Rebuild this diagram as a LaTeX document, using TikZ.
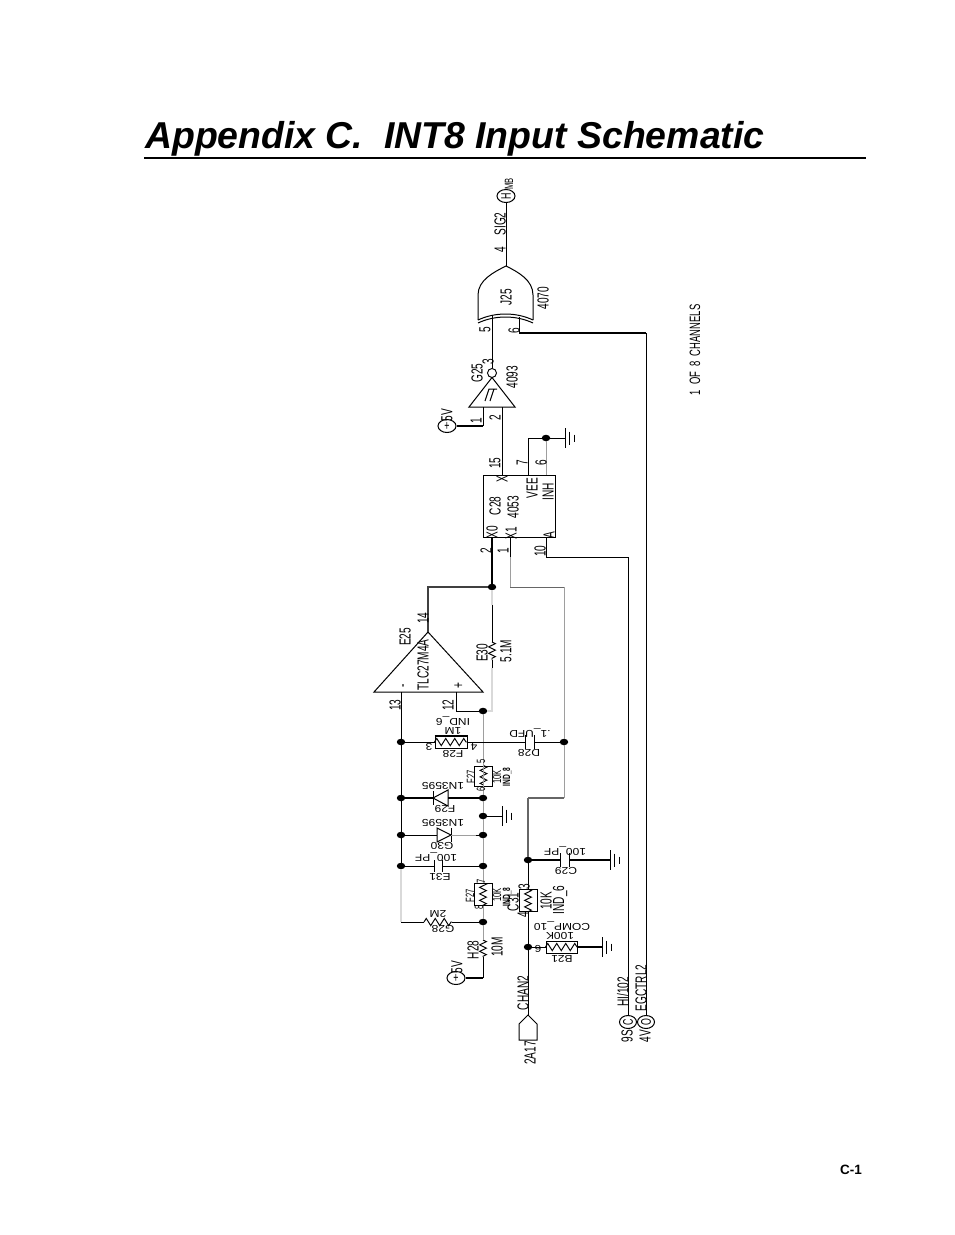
\documentclass[tikz,border=0pt]{standalone}
\usepackage{fontspec}
\usepackage{graphicx}
\usetikzlibrary{shapes.geometric,decorations.pathmorphing}
\setmainfont{Liberation Sans}
\newfontfamily\cadn[FakeStretch=0.63]{Liberation Sans}
\newfontfamily\cadw[FakeStretch=1.2]{Liberation Sans}
\definecolor{gA}{gray}{0.62}
\definecolor{gB}{gray}{0.85}
\definecolor{gC}{gray}{0.4}
\tikzset{
  wire/.style={draw=black,line width=0.95pt},
  thick wire/.style={draw=black,line width=1.7pt},
  gwire/.style={draw=gA,line width=1pt},
  lwire/.style={draw=gB,line width=1.2pt},
  dwire/.style={draw=gC,line width=1.3pt},
  dot/.style={ellipse,fill=black,inner sep=0pt,minimum width=8.5pt,minimum height=6.5pt},
  vl/.style={rotate=90,inner sep=0pt,font=\cadn\fontsize{16}{16}\selectfont},
  vs/.style={rotate=90,inner sep=0pt,font=\cadn\fontsize{12}{12}\selectfont},
  vt/.style={rotate=90,inner sep=0pt,font=\cadn\bfseries\fontsize{10.5}{11}\selectfont},
  hl/.style={rotate=180,inner sep=0pt,font=\cadw\fontsize{10}{10}\selectfont},
  port/.style={ellipse,draw=black,line width=1pt,inner sep=0pt,minimum width=18pt,minimum height=13pt,font=\cadn\fontsize{14}{14}\selectfont},
  rbox/.style={rectangle,draw=black,line width=1pt,inner sep=0pt},
  rzig/.style={draw=black,line width=0.95pt,decorate,decoration={zigzag,segment length=6.5pt,amplitude=3.4pt}},
  rzigh/.style={draw=black,line width=0.95pt,decorate,decoration={zigzag,segment length=9pt,amplitude=3.6pt}},
  plate/.style={draw=black,line width=1pt},
  gate/.style={draw=black,line width=1pt},
  gbar/.style={draw=black,line width=0.95pt}
}
\newcommand{\gndright}[2]{%
  \draw[gbar] (#1,#2-10) -- (#1,#2+10);
  \draw[gbar] (#1+4.5,#2-6.5) -- (#1+4.5,#2+6.5);
  \draw[gbar] (#1+9,#2-3.5) -- (#1+9,#2+3.5);}
\begin{document}
\begin{tikzpicture}[x=1pt,y=-1pt]
\useasboundingbox (0,0) rectangle (954,1235);
\fill[white] (0,0) rectangle (954,1235);
% title
\node[anchor=base west,inner sep=0pt,font=\bfseries\itshape\fontsize{37.4}{40}\selectfont] (title) at (145,148) {Appendix C.\ \ INT8 Input Schematic};
\coordinate (ruleL) at (144,158);
\coordinate (ruleR) at (866,158);
\draw[line width=2pt] (ruleL) -- (ruleR);
\node[inner sep=0pt,font=\bfseries\fontsize{13.5}{14}\selectfont] (pageno) at (851,1170) {C-1};
\node[rotate=90,inner sep=0pt,font=\cadn\fontsize{15}{15}\selectfont] (ch) at (695,350) {1\ \ OF\ \ 8\ \ CHANNELS};

% ---- ports
\node[port] (portH) at (506,196) {\rotatebox{90}{H}};
\node[vs] (mb) at (509,184) {MB};
\node[port] (p5a) at (447,426) {+};
\node[port] (p5b) at (456,978) {+};
\node[port,minimum width=17pt] (portC) at (628,1022) {\rotatebox{90}{C}};
\node[port,minimum width=17pt] (portO) at (646,1022) {\rotatebox{90}{O}};
\node[inner sep=0pt,minimum size=0pt] (chanTip) at (528,1015) {};
\coordinate (pa) at (537,1024); \coordinate (pb) at (537,1040); \coordinate (pc) at (519,1040); \coordinate (pd) at (519,1024);
\draw[gate] (chanTip.center) -- (pa) -- (pb) -- (pc) -- (pd) -- cycle;

% ---- XOR gate J25
\coordinate (orTip) at (506,266);
\coordinate (orL) at (478,295); \coordinate (orR) at (533,295);
\coordinate (orLb) at (478,320); \coordinate (orRb) at (533,320);
\coordinate (orLc) at (478,323); \coordinate (orRc) at (533,323);
\draw[gate] (orLb) -- (orL) .. controls (478,280) and (494,272) .. (orTip) .. controls (518,272) and (533,280) .. (orR) -- (orRb);
\draw[gate] (orLb) .. controls (495,312) and (516,312) .. (orRb);
\draw[gate] (orLc) .. controls (495,315) and (516,315) .. (orRc);
\coordinate (xorIn5) at (492,316);
\coordinate (xorIn6) at (519,317);

% ---- Schmitt inverter G25
\node[circle,draw=black,line width=0.95pt,inner sep=0pt,minimum size=9pt] (bub) at (492,373) {};
\coordinate (trTip) at (492,377.5); \coordinate (trL) at (469,407); \coordinate (trR) at (515,407);
\draw[gate] (trTip) -- (trL) -- (trR) -- cycle;
\draw[line width=1pt] (485,401) -- (489,389) -- (497,389) (490,401) -- (494,389);
\coordinate (tin1) at (483,407); \coordinate (tin2) at (502,407);

% ---- 4053 C28
\node[rbox,minimum width=72pt,minimum height=62pt] (chip) at (519,506) {};
\coordinate (chX) at (502,475); \coordinate (ch7) at (528,475); \coordinate (ch6) at (546,475);
\coordinate (chX0) at (492,537); \coordinate (chX1) at (510,537); \coordinate (chA) at (546,537);

% ---- op amp E25
\coordinate (oaTip) at (428,632); \coordinate (oaL) at (374,692); \coordinate (oaR) at (483,692);
\draw[gate] (oaTip) -- (oaL) -- (oaR) -- cycle;
\coordinate (oaM) at (401,692); \coordinate (oaP) at (456,692);

% ---- junctions
\node[dot] (jOut) at (492,587) {};
\node[dot] (gn6) at (546,438) {};
\node[dot] (a1) at (401,742) {};
\node[dot] (a2) at (401,798) {};
\node[dot] (a3) at (401,835) {};
\node[dot] (a4) at (401,866) {};
\node[dot] (b0) at (483,711) {};
\node[dot] (b2) at (483,798) {};
\node[dot] (b3) at (483,816) {};
\node[dot] (b4) at (483,835) {};
\node[dot] (b5) at (483,866) {};
\node[dot] (b6) at (483,922) {};
\node[dot] (c1) at (564,742) {};
\node[dot] (c2) at (528,860) {};
\node[dot] (c3) at (528,947) {};

% ---- resistor boxes
\node[rbox,minimum width=32pt,minimum height=12pt] (rF28) at (451,742) {};
\draw[rzigh] (rF28.west) -- (rF28.east);
\draw[line width=1.5pt] (rF28.north west) -- (rF28.north east);
\node[rbox,minimum width=18pt,minimum height=20pt] (rF27a) at (483.5,776) {};
\draw[rzig] (rF27a.north) -- (rF27a.south);
\node[rbox,minimum width=18pt,minimum height=22pt] (rF27b) at (483,894) {};
\draw[rzig] (rF27b.north) -- (rF27b.south);
\node[rbox,minimum width=18pt,minimum height=22pt] (rC31) at (528,900.5) {};
\draw[rzig] (rC31.north) -- (rC31.south);
\node[rbox,minimum width=31pt,minimum height=12pt] (rB21) at (561.5,947) {};
\draw[rzigh] (rB21.west) -- (rB21.east);
% open resistors
\coordinate (e30a) at (492,642); \coordinate (e30b) at (492,660);
\draw[rzig] (e30a) -- (e30b);
\coordinate (g28a) at (424,922); \coordinate (g28b) at (452,922);
\draw[rzigh] (g28a) -- (g28b);
\coordinate (h28a) at (483,940); \coordinate (h28b) at (483,957);
\draw[rzig] (h28a) -- (h28b);

% ---- capacitors
\coordinate (d28a) at (525,742); \coordinate (d28b) at (534,742);
\draw[plate] (525,735) -- (525,749) (534,735) -- (534,749);
\coordinate (e31a) at (434,866); \coordinate (e31b) at (442,866);
\draw[plate] (434,860) -- (434,872) (442,860) -- (442,872);
\coordinate (c29a) at (560,860); \coordinate (c29b) at (569,860);
\draw[plate] (560,853) -- (560,867) (569,853) -- (569,867);

% ---- diodes
\coordinate (f29a) at (433,798); \coordinate (f29b) at (448,798);
\draw[gate] (f29a) -- (448,790) -- (448,806) -- cycle;
\draw[gate] (433,791) -- (433,805);
\coordinate (g30a) at (437,835); \coordinate (g30b) at (451,835);
\draw[gate] (g30b) -- (437,828) -- (437,842) -- cycle;
\draw[gate] (451,828) -- (451,842);

% ---- grounds
\gndright{565}{438}
\gndright{502}{816}
\gndright{610}{860}
\gndright{602}{947}
\coordinate (gnd1) at (565,438);
\coordinate (gnd2) at (502,816);
\coordinate (gnd3) at (610,860);
\coordinate (gnd4) at (602,947);

% ---- wires
\draw[wire] (portH) -- (orTip);
\draw[wire] (bub) -- (xorIn5);
\draw[wire] (xorIn6) -- (519,333);
\coordinate (r6) at (519,333);
\coordinate (r6b) at (646,333);
\draw[thick wire] (r6) -- (r6b);
\draw[wire] (r6b) -- (portO);
\draw[wire] (tin1) -- (483,426);
\coordinate (t1b) at (483,426);
\draw[thick wire] (t1b) -- (p5a);
\draw[wire] (tin2) -- (chX);
\draw[wire] (ch7) -- (528,438) -- (gn6) -- (gnd1);
\draw[gwire] (ch6) -- (gn6);
\draw[wire,line width=1.3pt] (chX0) -- (jOut);
\draw[wire,line width=1.2pt,draw=black!75] (jOut) -- (428,587) -- (oaTip);
\coordinate (e30t) at (492,605);
\coordinate (e30u) at (492,668);
\coordinate (x492) at (492,711);
\draw[lwire] (jOut) -- (e30t);
\draw[wire] (e30t) -- (e30a) (e30b) -- (e30u);
\draw[lwire] (e30u) -- (x492) -- (b0);
\coordinate (x1a) at (510,557);
\draw[wire] (chX1) -- (x1a);
\coordinate (x1b) at (510,587); \coordinate (x1c) at (564,587);
\draw[gwire] (x1a) -- (x1b);
\draw[wire,draw=gC] (x1b) -- (x1c);
\draw[gwire] (x1c) -- (c1);
\coordinate (c1b) at (564,798); \coordinate (c1c) at (528,798);
\draw[gwire] (c1) -- (c1b);
\draw[dwire] (c1b) -- (c1c);
\draw[dwire] (c1c) -- (c2);
\draw[wire] (c2) -- (rC31.north) (rC31.south) -- (c3) -- (chanTip.center);
\draw[wire] (chA) -- (546,557) -- (628,557) -- (portC);
% net at pin 13
\draw[wire] (oaM) -- (a1) -- (a2) -- (a3) -- (a4);
\draw[lwire] (a4) -- (401,922);
\coordinate (g28l) at (401,922);
\draw[wire] (g28l) -- (g28a) (g28b) -- (b6);
% pin 12 net
\draw[wire] (oaP) -- (456,711) -- (b0);
\draw[gwire] (b0) -- (b2) -- (b3) -- (b4) -- (b5) -- (rF27b.north);
\draw[gwire] (rF27b.south) -- (b6) -- (h28a);
\draw[wire] (h28b) -- (483,978);
\coordinate (h28c) at (483,978);
\draw[thick wire] (h28c) -- (p5b);
% branches
\draw[wire] (a1) -- (rF28.west);
\draw[wire] (rF28.east) -- (d28a);
\draw[wire] (d28b) -- (c1);
\draw[thick wire] (a2) -- (f29a);
\draw[thick wire] (f29b) -- (b2);
\draw[wire] (b3) -- (gnd2);
\draw[wire] (a3) -- (g30a);
\draw[gwire] (g30b) -- (476,835);
\coordinate (g30c) at (476,835);
\draw[wire] (g30c) -- (b4);
\draw[wire] (a4) -- (e31a);
\draw[wire] (e31b) -- (b5);
\draw[thick wire] (c2) -- (c29a);
\draw[thick wire] (c29b) -- (gnd3);
\draw[wire] (c3) -- (rB21.west);
\draw[thick wire] (rB21.east) -- (gnd4);

% ---- rotated labels (read bottom to top)
\node[vl] (t1) at (500,224) {SIG2};
\node[vl] (t2) at (500,250) {4};
\node[vl] (t3) at (506,297) {J25};
\node[vl] (t4) at (543,298) {4070};
\node[vl] (t5) at (485,330) {5};
\node[vl] (t6) at (514,331) {6};
\node[vl] (t7) at (488,362) {3};
\node[vl] (t8) at (477,373) {G25};
\node[vl] (t9) at (512,377) {4093};
\node[vl] (t10) at (447,415) {5V};
\node[vl] (t11) at (476,421) {1};
\node[vl] (t12) at (495,418) {2};
\node[vl] (t13) at (495,463) {15};
\node[vl] (t14) at (522,463) {7};
\node[vl] (t15) at (541,463) {6};
\node[vl] (t16) at (502,479) {X};
\node[vl] (t17) at (532,488) {VEE};
\node[vl] (t18) at (548,492) {INH};
\node[vl] (t19) at (495,506) {C28};
\node[vl] (t20) at (513,507) {4053};
\node[vl] (t21) at (492,532) {X0};
\node[vl] (t22) at (511,533) {X1};
\node[vl] (t23) at (549,535) {A};
\node[vl] (t24) at (486,551) {2};
\node[vl] (t25) at (503,551) {1};
\node[vl] (t26) at (540,551) {10};
\node[vl] (t27) at (423,618) {14};
\node[vl] (t28) at (405,637) {E25};
\node[vl] (t29) at (423,665) {TLC27M4A};
\node[vl] (t30) at (405,686) {-};
\node[vl] (t31) at (459,686) {+};
\node[vl] (t32) at (482,653) {E30};
\node[vl] (t33) at (506,651) {5.1M};
\node[vl] (t34) at (395,705) {13};
\node[vl] (t35) at (448,705) {12};
\node[vl] (t36) at (473,950) {H28};
\node[vl] (t37) at (497,947) {10M};
\node[vl] (t38) at (457,967) {5V};
\node[vl] (t39) at (513,902) {C31};
\node[vl] (t40) at (524,887) {3};
\node[vl] (t41) at (523,915) {4};
\node[vl] (t42) at (546,901) {10K};
\node[vl] (t43) at (560,900) {IND\_6};
\node[vl] (t44) at (523,993) {CHAN2};
\node[vl] (t45) at (530,1053) {2A17};
\node[vl] (t46) at (623,992) {HI/102};
\node[vl] (t47) at (641,988) {EGCTRL2};
\node[vl] (t48) at (627,1036) {9S};
\node[vl] (t49) at (645,1036) {4V};
% small rotated labels
\node[vs] (u1) at (471,777) {F27};
\node[vs] (u2) at (481,761) {5};
\node[vs] (u3) at (481,789) {6};
\node[vs] (u4) at (497,777) {10K};
\node[vt] (u5) at (507,777) {IND\_8};
\node[vs] (u6) at (470,896) {F27};
\node[vs] (u7) at (481,881) {7};
\node[vs] (u8) at (479,907) {8};
\node[vs] (u9) at (497,895) {10K};
\node[vt] (u10) at (507,897) {IND\_8};
% upside-down labels
\node[hl] (v1) at (453,720.5) {IND\_6};
\node[hl] (v2) at (453,731) {1M};
\node[hl] (v3) at (453,754) {F28};
\node[hl] (v4) at (429,747) {3};
\node[hl] (v5) at (474,747) {4};
\node[hl] (v6) at (443,786) {1N3595};
\node[hl] (v7) at (445,809) {F29};
\node[hl] (v8) at (443,823) {1N3595};
\node[hl] (v9) at (442,846) {G30};
\node[hl] (v10) at (436,857) {100\_PF};
\node[hl] (v11) at (440,877) {E31};
\node[hl] (v12) at (438,914) {2M};
\node[hl] (v13) at (443,929) {G28};
\node[hl] (v14) at (530,733) {.1\_UFD};
\node[hl] (v15) at (529,753) {D28};
\node[hl] (v16) at (565,851) {100\_PF};
\node[hl] (v17) at (566,871) {C29};
\node[hl] (v18) at (562,925.5) {COMP\_10};
\node[hl] (v19) at (560,935.5) {100K};
\node[hl] (v20) at (562,959) {B21};
\node[hl] (v21) at (538,949) {6};
\end{tikzpicture}
\end{document}
